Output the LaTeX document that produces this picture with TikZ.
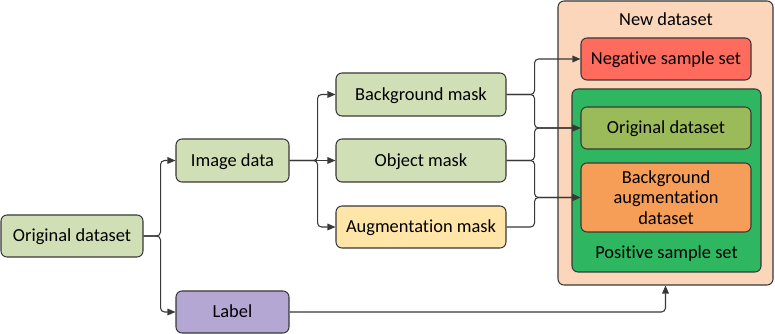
\documentclass[tikz,border=0pt]{standalone}
\usepackage{fontspec}
\setmainfont{Carlito}[Ligatures={NoCommon}]
\usetikzlibrary{arrows.meta}

\definecolor{edge}{RGB}{56,56,56}
\definecolor{sage}{RGB}{209,223,182}
\definecolor{lavender}{RGB}{180,167,212}
\definecolor{cream}{RGB}{255,230,168}
\definecolor{peach}{RGB}{251,214,186}
\definecolor{coral}{RGB}{255,108,94}
\definecolor{emerald}{RGB}{46,183,96}
\definecolor{olive}{RGB}{155,187,91}
\definecolor{tangerine}{RGB}{246,157,88}

\tikzset{
  box/.style={draw=edge, line width=0.8pt, rounded corners=4.5pt, align=center,
    inner sep=0pt, font=\fontsize{13.8}{15.5}\selectfont},
  oneline/.style={text height=9pt, text depth=0pt},
  caption/.style={inner sep=0pt, oneline, font=\fontsize{13.8}{15.5}\selectfont},
  conn/.style={draw=edge, line width=0.8pt, rounded corners=3pt,
    -{Triangle[length=6pt,width=5pt]}},
}

\begin{document}
\begin{tikzpicture}[x=0.75pt,y=-0.75pt]
\useasboundingbox (0,0) rectangle (775,334);

% left part: source data and its split
\node[box, oneline, fill=sage, minimum width=106.5pt, minimum height=31.5pt] (orig) at (72,236) {Original dataset};
\node[box, oneline, fill=sage, minimum width=84.75pt, minimum height=32.25pt] (img) at (232.5,160.5) {Image data};
\node[box, oneline, fill=lavender, minimum width=84.75pt, minimum height=31.5pt] (lab) at (232.5,312) {Label};

% masks
\node[box, oneline, fill=sage, minimum width=127.5pt, minimum height=32.25pt] (bgm) at (421,94.5) {Background mask};
\node[box, oneline, fill=sage, minimum width=127.5pt, minimum height=32.25pt] (objm) at (421,160.5) {Object mask};
\node[box, oneline, fill=cream, minimum width=127.5pt, minimum height=31.5pt] (augm) at (421,227) {Augmentation mask};

% new dataset container
\node[box, fill=peach, minimum width=161.25pt, minimum height=213pt] (new) at (665.5,143) {};
\node[caption] (newt) at (666,20) {New dataset};
\node[box, oneline, fill=coral, minimum width=127.5pt, minimum height=31.5pt] (neg) at (666,59) {Negative sample set};
\node[box, fill=emerald, minimum width=141.75pt, minimum height=137.25pt] (pos) at (666.5,180.5) {};
\node[caption] (post) at (666.5,252.5) {Positive sample set};
\node[box, oneline, fill=olive, minimum width=127.5pt, minimum height=31.5pt] (orig2) at (666,128) {Original dataset};
\node[box, fill=tangerine, minimum width=127.5pt, minimum height=51.75pt] (bga) at (666,197.5) {Background\\augmentation\\dataset};

% connectors
\draw[conn] (orig.east) -- ++(17,0) |- (img.west);
\draw[conn] (orig.east) -- ++(17,0) |- (lab.west);

\draw[conn] (img.east) -- ++(28,0) |- (bgm.west);
\draw[conn] (img.east) -- (objm.west);
\draw[conn] (img.east) -- ++(28,0) |- (augm.west);

\draw[conn] (bgm.east) -- ++(28,0) |- (neg.west);
\draw[conn] (bgm.east) -- ++(28,0) |- (orig2.west);
\draw[conn] (objm.east) -- ++(28,0) |- (orig2.west);
\draw[conn] (objm.east) -- ++(28,0) |- (bga.west);
\draw[conn] (augm.east) -- ++(28,0) |- (bga.west);

\draw[conn] (lab.east) -| (new.south);
\end{tikzpicture}
\end{document}
